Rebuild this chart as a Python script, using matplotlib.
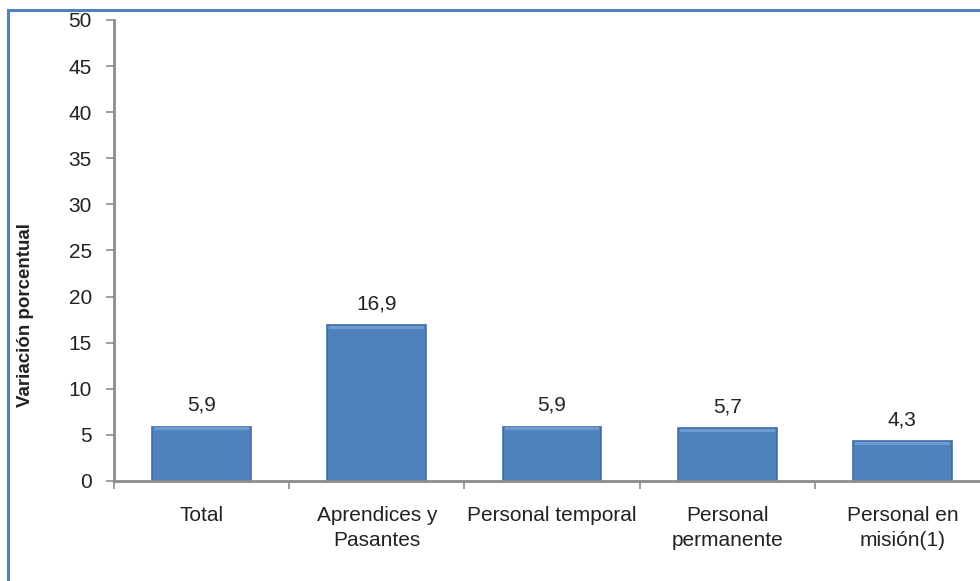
import numpy as np
import matplotlib.pyplot as plt
from matplotlib.patches import Rectangle

categories = ['Total', 'Aprendices y\nPasantes', 'Personal temporal', 'Personal\npermanente', 'Personal en\nmisión(1)']
values = [5.9, 16.9, 5.9, 5.7, 4.3]
value_labels = ['5,9', '16,9', '5,9', '5,7', '4,3']
yticks = [0, 5, 10, 15, 20, 25, 30, 35, 40, 45, 50]

plt.rcParams['font.family'] = ['Liberation Sans', 'DejaVu Sans']

fig = plt.figure(figsize=(9.8, 5.81), dpi=100)
# axes: left 114px, right ~990px (beyond the picture), y0 at 480px, y50 at 20px
ax = fig.add_axes([114/980, 1 - 481/581, (990-114)/980, (481-20)/581])

x = np.arange(len(categories))
bars = ax.bar(x, values, width=0.565, color='#4F81BD', edgecolor='#3F6FA8', linewidth=1.2, zorder=2)
# light top bevel
ax.bar(x, [0.3]*len(values), bottom=np.array(values) - 0.38, width=0.54, color='#6F9BD2',
       linewidth=0, zorder=3)

for xi, v, lab in zip(x, values, value_labels):
    ax.text(xi, v + 1.3, lab, ha='center', va='bottom', fontsize=15, color='#222222')

ax.set_xlim(-0.5, len(categories) - 0.5)
ax.set_ylim(0, 50)
ax.set_yticks(yticks)
ax.set_yticklabels([str(t) for t in yticks], fontsize=15, color='#222222')

ax.set_xticks(np.arange(len(categories) + 1) - 0.5)
ax.set_xticklabels([])
ax.set_xticks(x, minor=True)
ax.set_xticklabels(categories, minor=True, fontsize=15, color='#222222', linespacing=1.38)
ax.tick_params(axis='x', which='minor', length=0, pad=18)
ax.tick_params(axis='x', which='major', length=6, width=1.2, color='#8c8c8c', direction='out')
ax.tick_params(axis='y', length=6, width=1.2, color='#8c8c8c', direction='out', pad=10)

for s in ['top', 'right']:
    ax.spines[s].set_visible(False)
for s in ['left', 'bottom']:
    ax.spines[s].set_color('#8c8c8c')
    ax.spines[s].set_linewidth(2)

fig.text(25/980, 1 - 315/581, 'Variación porcentual', rotation=90, ha='center', va='center',
         fontsize=13.5, fontweight='bold', color='#222222')

# outer chart frame
fig.patches.append(Rectangle((8/980, -0.1), 1.2, 1 - 10/581 + 0.1, transform=fig.transFigure,
                             fill=False, edgecolor='#4F81BD', linewidth=2.2))

fig.savefig('out.png', dpi=100)
